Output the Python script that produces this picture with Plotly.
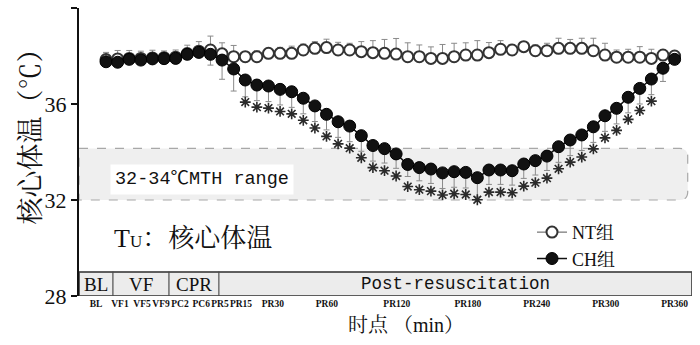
import plotly.graph_objects as go

# Time-point index of each measurement (BL, VF, CPR and post-resuscitation samples)
points = list(range(50))

# Core temperature (°C), normothermia group
nt_temp = [37.85, 37.88, 37.90, 37.90, 37.92, 37.93, 37.95, 38.10, 38.20, 38.25,
           38.09, 37.97, 37.97, 37.97, 38.11, 38.11, 38.11, 38.25, 38.32, 38.35,
           38.25, 38.25, 38.18, 38.14, 38.11, 38.08, 37.97, 37.97, 37.90, 37.90,
           37.97, 38.04, 38.04, 38.14, 38.28, 38.25, 38.39, 38.22, 38.22, 38.32,
           38.32, 38.32, 38.22, 38.04, 37.95, 37.95, 37.95, 37.90, 38.04, 38.00]
nt_sd = [0.30, 0.35, 0.33, 0.30, 0.32, 0.28, 0.30, 0.35, 0.40, 0.58,
         0.46, 0.47, 0.20, 0.25, 0.20, 0.25, 0.30, 0.25, 0.28, 0.35,
         0.32, 0.28, 0.42, 0.50, 0.58, 0.65, 0.58, 0.49, 0.48, 0.58,
         0.56, 0.51, 0.60, 0.42, 0.36, 0.20, 0.20, 0.25, 0.31, 0.42,
         0.37, 0.42, 0.52, 0.49, 0.30, 0.33, 0.44, 0.38, 0.20, 0.15]

# Core temperature (°C), controlled hypothermia group
ch_temp = [37.76, 37.74, 37.86, 37.83, 37.88, 37.89, 37.90, 38.07, 38.15, 38.07,
           37.83, 37.46, 37.00, 36.79, 36.75, 36.61, 36.51, 36.24, 35.92, 35.57,
           35.26, 35.08, 34.68, 34.27, 34.14, 33.92, 33.48, 33.35, 33.29, 33.13,
           33.18, 33.15, 32.93, 33.25, 33.25, 33.22, 33.50, 33.64, 33.83, 34.22,
           34.50, 34.71, 35.05, 35.51, 35.82, 36.28, 36.65, 37.04, 37.49, 37.86]
ch_sd = [0.15, 0.15, 0.15, 0.15, 0.15, 0.15, 0.15, 0.15, 0.20, 0.45,
         0.80, 0.92, 0.70, 0.65, 0.65, 0.65, 0.65, 0.65, 0.65, 0.65,
         0.65, 0.65, 0.65, 0.65, 0.60, 0.60, 0.50, 0.55, 0.60, 0.65,
         0.65, 0.65, 0.80, 0.60, 0.60, 0.60, 0.60, 0.60, 0.60, 0.65,
         0.65, 0.65, 0.65, 0.65, 0.65, 0.65, 0.65, 0.65, 0.55, 0.15]

# Significance (CH vs NT) at each time point
significant = [i >= 12 and i <= 47 for i in points]
star_gap = 0.92

# Axis tick labels
tick_pos = [-0.86, 1.2, 3.1, 4.74, 6.37, 8.2, 9.82, 11.63, 14.38, 19.03,
            25.06, 31.18, 37.12, 43.06, 49.0]
tick_text = ["BL", "VF1", "VF5", "VF9", "PC2", "PC6", "PR5", "PR15", "PR30", "PR60",
             "PR120", "PR180", "PR240", "PR300", "PR360"]

# Experimental phases along the time axis
phase_names = ["BL", "VF", "CPR", "Post-resuscitation"]
phase_edges = [-2.33, 0.6, 5.43, 9.73, 50.5]

x_range = [-2.33, 50.5]
mth_low, mth_high, mth_end = 32.0, 34.15, 50.13

SERIF = "Liberation Serif, Noto Serif CJK SC, Noto Sans CJK SC, serif"
MONO = "Liberation Mono, Noto Sans CJK SC, monospace"

fig = go.Figure()

fig.add_trace(go.Scatter(
    x=points, y=nt_temp, mode="lines+markers", name="NT组",
    line=dict(color="#555555", width=1),
    marker=dict(symbol="circle", size=11, color="white",
                line=dict(color="#333333", width=2)),
    error_y=dict(type="data", array=nt_sd, arrayminus=[0] * len(nt_sd),
                 symmetric=False, color="#8a8a8a", thickness=1, width=3),
))

fig.add_trace(go.Scatter(
    x=points, y=ch_temp, mode="lines+markers", name="CH组",
    line=dict(color="#111111", width=1.5),
    marker=dict(symbol="circle", size=12, color="#111111",
                line=dict(color="#000000", width=1)),
    error_y=dict(type="data", array=[0] * len(ch_sd), arrayminus=ch_sd,
                 symmetric=False, color="#8a8a8a", thickness=1, width=3),
))

star_x = [p for p, s in zip(points, significant) if s]
star_y = [t - star_gap for t, s in zip(ch_temp, significant) if s]
fig.add_trace(go.Scatter(
    x=star_x, y=star_y, mode="markers", showlegend=False, hoverinfo="skip",
    marker=dict(symbol="asterisk-open", size=9, color="#2a2a2a",
                line=dict(color="#2a2a2a", width=1.6)),
))

# 32-34 °C target band with rounded right corners
rx, ry = 0.7, 0.33
band_path = (f"M {x_range[0]},{mth_high} L {mth_end - rx},{mth_high} "
             f"Q {mth_end},{mth_high} {mth_end},{mth_high - ry} "
             f"L {mth_end},{mth_low + ry} Q {mth_end},{mth_low} {mth_end - rx},{mth_low} "
             f"L {x_range[0]},{mth_low} Z")
fig.add_shape(type="path", path=band_path, xref="x", yref="y", layer="below",
              fillcolor="#efefef", line=dict(color="#a8a8a8", width=1.2, dash="dash"))

# Phase bar along the bottom of the plot
for i, name in enumerate(phase_names):
    x0, x1 = phase_edges[i], phase_edges[i + 1]
    fig.add_shape(type="rect", x0=x0, x1=x1, y0=28, y1=29, xref="x", yref="y",
                  fillcolor="#ececec", line=dict(color="#6a6a6a", width=1.2))
    is_mono = name == "Post-resuscitation"
    fig.add_annotation(x=(x0 + x1) / 2, y=28.5, xref="x", yref="y", text=name,
                       showarrow=False,
                       font=dict(family=MONO if is_mono else SERIF,
                                 size=17.5 if is_mono else 19, color="#111111"))
fig.add_shape(type="rect", x0=phase_edges[0], x1=phase_edges[-1], y0=28, y1=29,
              xref="x", yref="y", line=dict(color="#444444", width=1.5))

fig.add_annotation(x=0.3, y=32.85, xref="x", yref="y", xanchor="left",
                   text="32-34℃MTH range", showarrow=False, bgcolor="white",
                   borderpad=4, font=dict(family=MONO, size=18.5, color="#111111"))

fig.add_annotation(x=0.55, y=30.4, xref="x", yref="y", xanchor="left",
                   text="T<span style='font-size:17px'>U</span>：核心体温",
                   showarrow=False, font=dict(family=SERIF, size=26, color="#111111"))

fig.add_annotation(x=-0.106, y=0.575, xref="paper", yref="paper", textangle=-90,
                   text="核心体温（℃）", showarrow=False,
                   font=dict(family=SERIF, size=27, color="#111111"))

fig.add_annotation(x=0.533, y=-0.10, xref="paper", yref="paper", yanchor="middle",
                   text="时点 （min）", showarrow=False,
                   font=dict(family=SERIF, size=20, color="#111111"))

fig.update_layout(
    width=700, height=345,
    margin=dict(l=79, r=8, t=8, b=49),
    paper_bgcolor="white", plot_bgcolor="white",
    showlegend=True,
    legend=dict(x=0.739, y=0.285, xanchor="left", yanchor="top",
                bgcolor="rgba(0,0,0,0)", itemwidth=30, tracegroupgap=0,
                font=dict(family=SERIF, size=18, color="#111111")),
    xaxis=dict(range=x_range, showgrid=False, zeroline=False, showline=False,
               tickmode="array", tickvals=tick_pos, ticktext=tick_text, ticks="",
               tickangle=0,
               tickfont=dict(family=SERIF, size=9.5, color="#111111", weight="bold")),
    yaxis=dict(range=[28, 40], showgrid=False, zeroline=False, showline=True,
               linecolor="#111111", linewidth=2, ticks="outside", ticklen=6,
               tickwidth=2, tickcolor="#111111", tickvals=[28, 32, 36, 40],
               tickfont=dict(family=SERIF, size=22, color="#111111")),
)

fig.write_html("out.html")
